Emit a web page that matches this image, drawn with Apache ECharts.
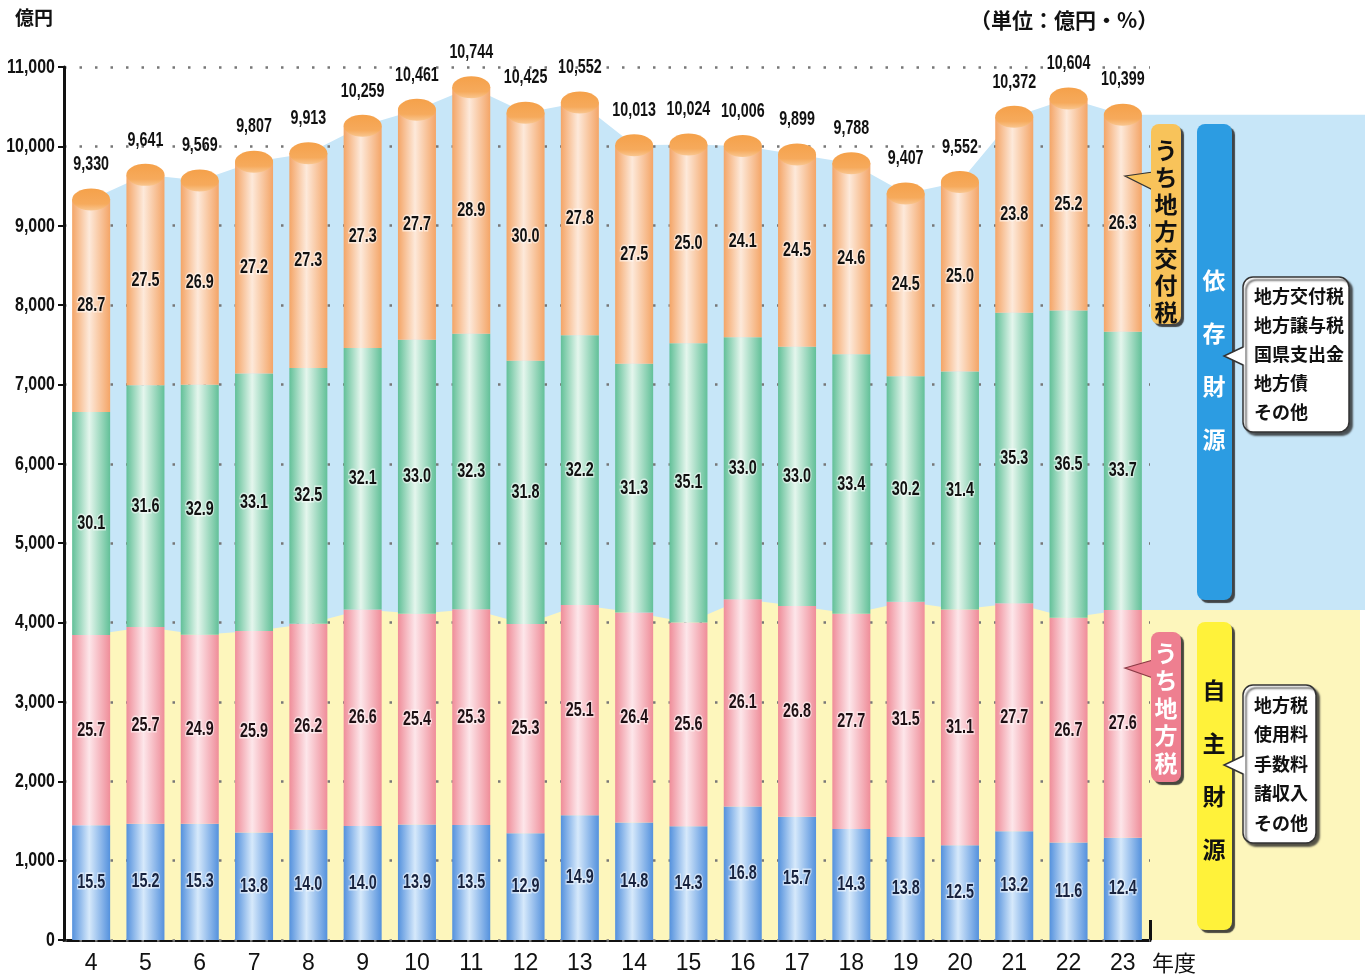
<!DOCTYPE html>
<html>
<head>
<meta charset="utf-8">
<script src="https://cdn.jsdelivr.net/npm/echarts@6/dist/echarts.min.js"></script>
<style>
html,body{margin:0;padding:0;background:#fff;}
#main{width:1368px;height:978px;}
</style>
</head>
<body>
<div id="main"></div>
<script>
// 年度
var years = ['4','5','6','7','8','9','10','11','12','13','14','15','16','17','18','19','20','21','22','23'];
// 歳入総額（億円）
var totals = [9330,9641,9569,9807,9913,10259,10461,10744,10425,10552,10013,10024,10006,9899,9788,9407,9552,10372,10604,10399];
// 構成比（%） 下から: 自主財源(地方税以外), うち地方税, 依存財源(交付税以外), うち地方交付税
var pctOther  = [15.5,15.2,15.3,13.8,14.0,14.0,13.9,13.5,12.9,14.9,14.8,14.3,16.8,15.7,14.3,13.8,12.5,13.2,11.6,12.4];
var pctTax    = [25.7,25.7,24.9,25.9,26.2,26.6,25.4,25.3,25.3,25.1,26.4,25.6,26.1,26.8,27.7,31.5,31.1,27.7,26.7,27.6];
var pctDep    = [30.1,31.6,32.9,33.1,32.5,32.1,33.0,32.3,31.8,32.2,31.3,35.1,33.0,33.0,33.4,30.2,31.4,35.3,36.5,33.7];
var pctKofu   = [28.7,27.5,26.9,27.2,27.3,27.3,27.7,28.9,30.0,27.8,27.5,25.0,24.1,24.5,24.6,24.5,25.0,23.8,25.2,26.3];
var yTicks = [0,1000,2000,3000,4000,5000,6000,7000,8000,9000,10000,11000];

var numFont = "'Liberation Sans',sans-serif";
var jpFont = "'Noto Sans CJK JP',sans-serif";

function part(pct){
    return totals.map(function(t,i){ return t*pct[i]/100; });
}
var vOther = part(pctOther), vTax = part(pctTax), vDep = part(pctDep), vKofu = part(pctKofu);
var ownTop = vOther.map(function(v,i){ return v+vTax[i]; });

function cyl(edge, mid){
    return {type:'linear',x:0,y:0,x2:1,y2:0,colorStops:[
        {offset:0,color:edge},{offset:0.45,color:mid},{offset:1,color:edge}]};
}
function comma(v){ return String(v).replace(/\B(?=(\d{3})+(?!\d))/g, ','); }

function barSeries(name, vals, edge, mid){
    return {name:name, type:'bar', stack:'a', barWidth:38, z:2, data:vals, silent:true,
        itemStyle:{color:cyl(edge, mid)}};
}

// 細長い数字（縦長フォントの代わりに横方向を縮める）
function narrow(x, y, str, size, color, sx, align, halo){
    var st = {text:str, fontFamily:numFont, fontWeight:'bold', fontSize:size, fill:color,
        align:align || 'center', verticalAlign:'middle'};
    if (halo) { st.stroke = 'rgba(255,255,255,0.55)'; st.lineWidth = 3; }
    return {type:'text', x:x, y:y, scaleX:sx, style:st};
}

var layers = [
    [vOther, pctOther, '#18233f'],
    [vTax, pctTax, '#1e1014'],
    [vDep, pctDep, '#111'],
    [vKofu, pctKofu, '#111']
];

var chart = echarts.init(document.getElementById('main'));

chart.setOption({
    animation:false,
    grid:{left:64, right:218, top:67, bottom:38},
    xAxis:{
        type:'category', data:years, boundaryGap:true,
        axisLine:{lineStyle:{color:'#111', width:3}},
        axisTick:{show:true, inside:true, length:20, lineStyle:{color:'#111', width:3}},
        axisLabel:{fontFamily:numFont, fontSize:23, color:'#111', margin:12}
    },
    yAxis:{
        type:'value', min:0, max:11000, interval:1000, z:1,
        axisLine:{show:true, lineStyle:{color:'#111', width:3}},
        axisTick:{show:true, length:6, lineStyle:{color:'#111', width:2}},
        axisLabel:{show:false},
        splitLine:{show:true, lineStyle:{color:'#777', width:2.5, type:[2.5,13]}}
    },
    series:[
        {type:'line', data:totals, symbol:'none', silent:true, z:0,
            lineStyle:{width:0}, areaStyle:{color:'#c7e6f8', opacity:1}},
        {type:'line', data:ownTop, symbol:'none', silent:true, z:0.5,
            lineStyle:{width:0}, areaStyle:{color:'#fdf6bc', opacity:1}},
        barSeries('その他自主財源', vOther, '#5491dd', '#d6e9fb'),
        barSeries('うち地方税', vTax, '#ef8d99', '#fde6ea'),
        barSeries('その他依存財源', vDep, '#62c098', '#e4f6ed'),
        barSeries('うち地方交付税', vKofu, '#f4a567', '#fde9da'),
        {type:'pictorialBar', data:totals, symbol:'circle', symbolSize:[38,22],
            symbolPosition:'end', symbolOffset:[0,'-50%'], z:3, silent:true,
            itemStyle:{color:{type:'linear',x:0,y:0,x2:0,y2:1,colorStops:[
                {offset:0,color:'#f5a14a'},{offset:0.7,color:'#f6aa5c'},{offset:1,color:'#f9c690'}]}}},
        // 構成比と総額のラベル
        {type:'custom', z:5, silent:true,
            data:years.map(function(y,i){ return [i, totals[i]]; }),
            encode:{x:0, y:1},
            renderItem:function(params, api){
                var i = params.dataIndex, base = 0, kids = [];
                layers.forEach(function(L){
                    var p = api.coord([i, base + L[0][i]/2]);
                    kids.push(narrow(p[0], p[1], L[1][i].toFixed(1), 20, L[2], 0.72, 'center', true));
                    base += L[0][i];
                });
                var pt = api.coord([i, totals[i]]);
                kids.push(narrow(pt[0], pt[1]-35, comma(totals[i]), 21, '#111', 0.68));
                return {type:'group', children:kids};
            }},
        // 縦軸の目盛ラベル
        {type:'custom', z:5, silent:true,
            data:yTicks.map(function(v){ return [0, v]; }),
            encode:{x:0, y:1},
            renderItem:function(params, api){
                var v = yTicks[params.dataIndex];
                var p = api.coord([0, v]);
                return narrow(params.coordSys.x - 9, p[1], comma(v), 21, '#111', 0.76, 'right');
            }}
    ]
});

var n = years.length - 1;
var pTot = chart.convertToPixel({gridIndex:0}, [n, totals[n]]);
var pOwn = chart.convertToPixel({gridIndex:0}, [n, ownTop[n]]);
var pZero = chart.convertToPixel({gridIndex:0}, [n, 0]);

function vtext(str, x, y, step, size, color){
    var out = [];
    for (var i = 0; i < str.length; i++) {
        out.push({type:'text', z:20, x:x, y:y + i*step,
            style:{text:str[i], fontFamily:jpFont, fontWeight:'bold', fontSize:size, fill:color,
                align:'center', verticalAlign:'middle'}});
    }
    return out;
}
function label(x, y, w, h, fill){
    return {type:'rect', z:15, shape:{x:x, y:y, width:w, height:h, r:8},
        style:{fill:fill, shadowColor:'rgba(40,40,40,0.85)', shadowOffsetX:3, shadowOffsetY:3, shadowBlur:1}};
}
function listBox(x, y, w, h, tipX, tipY, items, firstY, step){
    var out = [
        {type:'rect', z:16, shape:{x:x, y:y, width:w, height:h, r:10},
            style:{fill:'#fff', stroke:'#333', lineWidth:1.5, shadowColor:'rgba(40,40,40,0.8)', shadowOffsetX:3, shadowOffsetY:3, shadowBlur:2}},
        {type:'polygon', z:17, shape:{points:[[x+2,tipY-9],[tipX,tipY],[x+2,tipY+9]]}, style:{fill:'#fff'}},
        {type:'polyline', z:17, shape:{points:[[x,tipY-9],[tipX,tipY],[x,tipY+9]]}, style:{stroke:'#333', lineWidth:1.5, fill:null}}
    ];
    items.forEach(function(t, i){
        out.push({type:'text', z:18, x:x+11, y:firstY + i*step,
            style:{text:t, fontFamily:jpFont, fontWeight:'bold', fontSize:18, fill:'#111', verticalAlign:'middle'}});
    });
    return out;
}

var g = [
    // 右側の背景
    {type:'rect', z:0, shape:{x:pTot[0], y:pTot[1], width:1365-pTot[0], height:pOwn[1]-pTot[1]}, style:{fill:'#c7e6f8'}},
    {type:'rect', z:0, shape:{x:pOwn[0], y:pOwn[1], width:1360-pOwn[0], height:pZero[1]-pOwn[1]}, style:{fill:'#fdf6bc'}},
    // 見出し
    {type:'text', z:20, x:15, y:18, style:{text:'億円', fontFamily:jpFont, fontWeight:'bold', fontSize:19, fill:'#111', verticalAlign:'middle'}},
    {type:'text', z:20, x:970, y:20, style:{text:'（単位：億円・%）', fontFamily:jpFont, fontWeight:'bold', fontSize:21, fill:'#111', verticalAlign:'middle'}},
    {type:'text', z:20, x:1152, y:963, style:{text:'年度', fontFamily:jpFont, fontSize:22, fill:'#111', verticalAlign:'middle'}},
    // うち地方交付税
    {type:'polygon', z:14, shape:{points:[[1153,172],[1125,176],[1153,190]]}, style:{fill:'#f8c35a', stroke:'#333', lineWidth:1.2}},
    label(1151, 124, 30, 200, '#f8c35a'),
    // 依存財源
    label(1197, 124, 35, 476, '#2c9ce2'),
    // うち地方税
    {type:'polygon', z:14, shape:{points:[[1153,660],[1125,668],[1153,678]]}, style:{fill:'#ee7f90', stroke:'#8a3a45', lineWidth:1.2}},
    label(1151, 632, 30, 150, '#ee7f90'),
    // 自主財源
    label(1197, 622, 35, 308, '#fff23a')
];
g = g.concat(vtext('うち地方交付税', 1166, 150, 27, 23, '#111'));
g = g.concat(vtext('依存財源', 1214, 280, 53, 23, '#fff'));
g = g.concat(vtext('うち地方税', 1166, 653, 27.5, 23, '#fff'));
g = g.concat(vtext('自主財源', 1214, 690, 53, 23, '#111'));
g = g.concat(listBox(1243, 277, 106, 155, 1224, 356, ['地方交付税','地方譲与税','国県支出金','地方債','その他'], 296, 29));
g = g.concat(listBox(1243, 685, 73, 158, 1224, 765, ['地方税','使用料','手数料','諸収入','その他'], 705, 29.5));

chart.setOption({graphic:g});
</script>
</body>
</html>
